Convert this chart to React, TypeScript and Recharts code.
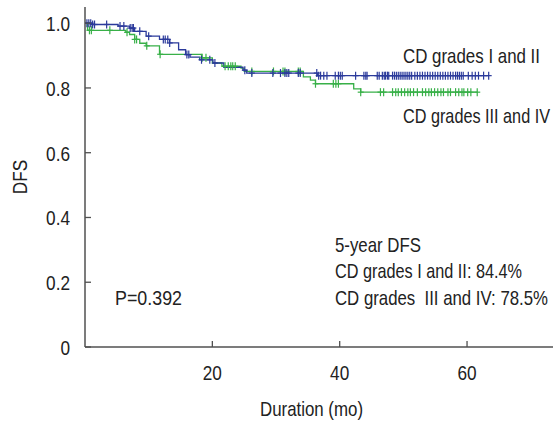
import React from 'react';
import { ComposedChart, Line, Scatter, XAxis, YAxis } from 'recharts';

// Kaplan-Meier step curves (time in months, survival proportion)
const blueTimes = [0, 1.1, 5.2, 7.0, 7.8, 9.6, 11.7, 13.3, 14.7, 15.8, 16.5, 18.0, 20.1, 21.8, 24.8, 25.4, 36.5, 63.4];
const blueSurv = [1.0, 0.996, 0.991, 0.985, 0.975, 0.96, 0.95, 0.939, 0.918, 0.903, 0.895, 0.887, 0.877, 0.864, 0.855, 0.846, 0.838, 0.838];

const greenTimes = [0, 0.4, 6.4, 7.0, 7.8, 8.6, 9.6, 11.7, 18.3, 20.0, 21.5, 24.5, 25.0, 34.3, 35.4, 36.2, 42.2, 43.3, 61.6];
const greenSurv = [1.0, 0.978, 0.972, 0.965, 0.95, 0.938, 0.93, 0.904, 0.893, 0.877, 0.867, 0.861, 0.851, 0.834, 0.824, 0.813, 0.797, 0.787, 0.787];

// censored observation times
const blueCensorTimes = [0.3, 0.6, 0.9, 1.2, 1.5, 3.4, 5.5, 6.1, 7.1, 7.4, 7.6, 8.6, 10.0, 12.3, 12.6, 13.0, 13.3, 16.0, 16.3, 18.3, 19.6, 20.4, 25.1, 26.2, 29.5, 30.7, 31.4, 31.7, 32.0, 33.5, 33.8, 36.4, 36.7, 37.0, 37.5, 38.0, 39.3, 39.8, 40.1, 40.4, 42.5, 43.8, 44.1, 44.3, 45.9, 46.2, 46.7, 47.0, 47.2, 47.5, 47.7, 48.3, 48.6, 48.9, 49.2, 49.5, 49.8, 50.1, 50.4, 50.7, 51.0, 51.3, 51.8, 52.2, 52.6, 53.0, 53.4, 53.8, 54.2, 54.6, 55.0, 55.4, 55.8, 56.2, 56.6, 57.0, 57.4, 57.8, 58.2, 58.5, 58.8, 59.1, 59.4, 60.2, 60.8, 61.3, 61.8, 62.6, 63.4];
const greenCensorTimes = [0.7, 1.0, 3.9, 6.6, 7.8, 8.1, 9.7, 11.8, 18.4, 19.0, 22.0, 22.5, 22.9, 23.2, 23.6, 26.2, 29.6, 31.1, 31.4, 33.5, 33.8, 36.2, 39.0, 39.4, 39.8, 43.3, 46.4, 46.9, 48.3, 48.8, 49.2, 49.7, 50.2, 50.7, 51.1, 51.6, 52.2, 53.0, 53.5, 54.0, 54.4, 54.9, 55.4, 55.9, 56.3, 57.0, 57.4, 58.2, 58.7, 59.2, 59.5, 60.1, 60.6, 61.6];

const xTicks = [20, 40, 60];
const yTicks = [0, 0.2, 0.4, 0.6, 0.8, 1.0];
const yTickLabels = ['0', '0.2', '0.4', '0.6', '0.8', '1.0'];

const groupLabels = ['CD grades I and II', 'CD grades III and IV'];
const summaryLines = ['5-year DFS', 'CD grades I and II: 84.4%', 'CD grades  III and IV: 78.5%'];
const pValueText = 'P=0.392';
const xTitle = 'Duration (mo)';
const yTitle = 'DFS';

const BLUE = '#2b3a9b';
const GREEN = '#38b048';
const AXIS = '#505050';
const TEXT = '#222222';
const FONT = "'Liberation Sans', Arial, sans-serif";
const FS = 21;
const SX = 0.82;

function stepAt(times: number[], surv: number[], t: number): number {
  let v = surv[0];
  for (let i = 0; i < times.length; i++) if (times[i] <= t) v = surv[i];
  return v;
}

const blueCurve = blueTimes.map((t, i) => ({ t, s: blueSurv[i] }));
const greenCurve = greenTimes.map((t, i) => ({ t, s: greenSurv[i] }));
const blueCensor = blueCensorTimes.map((t) => ({ t, s: stepAt(blueTimes, blueSurv, t) }));
const greenCensor = greenCensorTimes.map((t) => ({ t, s: stepAt(greenTimes, greenSurv, t) }));

// narrow (condensed) text: horizontally compressed Liberation Sans, optional fitted width
const NText = ({ x, y, anchor = 'start', rotate = 0, w, children }: any) => (
  <g transform={`translate(${x},${y}) rotate(${rotate}) scale(${SX},1)`}>
    <text
      x={0}
      y={0}
      textAnchor={anchor}
      fill={TEXT}
      fontSize={FS}
      fontFamily={FONT}
      style={{ whiteSpace: 'pre' }}
      {...(w ? { textLength: w / SX, lengthAdjust: 'spacingAndGlyphs' } : {})}
    >
      {children}
    </text>
  </g>
);

const makePlus = (color: string) => (props: any) => {
  const { cx, cy } = props;
  if (cx == null || cy == null) return <g />;
  return (
    <g stroke={color} strokeWidth={1.2}>
      <line x1={cx} x2={cx} y1={cy - 4} y2={cy + 4} />
      <line x1={cx - 3} x2={cx + 3} y1={cy} y2={cy} />
    </g>
  );
};

const Y_MARGIN = 15;
const X_MARGIN = 17;

const YTick = (props: any) => {
  const { x, y, payload } = props;
  const idx = yTicks.indexOf(payload.value);
  const ax = x + Y_MARGIN;
  return (
    <g>
      <line x1={ax} x2={ax + 6} y1={y} y2={y} stroke={AXIS} strokeWidth={1.3} />
      <NText x={x} y={y + 8} anchor="end">{idx >= 0 ? yTickLabels[idx] : String(payload.value)}</NText>
    </g>
  );
};

const XTick = (props: any) => {
  const { x, y, payload } = props;
  const ay = y - X_MARGIN;
  return (
    <g>
      <line x1={x} x2={x} y1={ay} y2={ay - 6} stroke={AXIS} strokeWidth={1.3} />
      <NText x={x} y={y + 16} anchor="middle">{String(payload.value)}</NText>
    </g>
  );
};

export default function App() {
  return (
    <div style={{ position: 'absolute', left: 0, top: 0, width: 554, height: 423, background: '#fff' }}>
      <ComposedChart width={554} height={423} margin={{ top: 7, right: 1, bottom: 0, left: 0 }}>
        <XAxis
          type="number"
          dataKey="t"
          domain={[0, 73.5]}
          ticks={xTicks}
          height={76}
          tickSize={0}
          tickMargin={X_MARGIN}
          tickLine={false}
          axisLine={{ stroke: AXIS, strokeWidth: 1.5 }}
          tick={<XTick />}
          allowDataOverflow
        />
        <YAxis
          type="number"
          domain={[0, 1.05]}
          ticks={yTicks}
          width={85}
          tickSize={0}
          tickMargin={Y_MARGIN}
          tickLine={false}
          axisLine={{ stroke: AXIS, strokeWidth: 1.5 }}
          tick={<YTick />}
          allowDataOverflow
        />
        <Line data={greenCurve} dataKey="s" type="stepAfter" stroke={GREEN} strokeWidth={1.3} dot={false} isAnimationActive={false} />
        <Line data={blueCurve} dataKey="s" type="stepAfter" stroke={BLUE} strokeWidth={1.3} dot={false} isAnimationActive={false} />
        <Scatter data={greenCensor} dataKey="s" shape={makePlus(GREEN)} isAnimationActive={false} />
        <Scatter data={blueCensor} dataKey="s" shape={makePlus(BLUE)} isAnimationActive={false} />

        <NText x={403} y={63} w={137}>{groupLabels[0]}</NText>
        <NText x={403} y={123} w={147}>{groupLabels[1]}</NText>
        <NText x={335} y={252} w={86}>{summaryLines[0]}</NText>
        <NText x={335} y={278} w={187}>{summaryLines[1]}</NText>
        <NText x={335} y={305} w={213}>{summaryLines[2]}</NText>
        <NText x={115} y={305} w={67}>{pValueText}</NText>
        <NText x={260} y={416} w={103}>{xTitle}</NText>
        <NText x={27} y={177} anchor="middle" rotate={-90}>{yTitle}</NText>
      </ComposedChart>
    </div>
  );
}
